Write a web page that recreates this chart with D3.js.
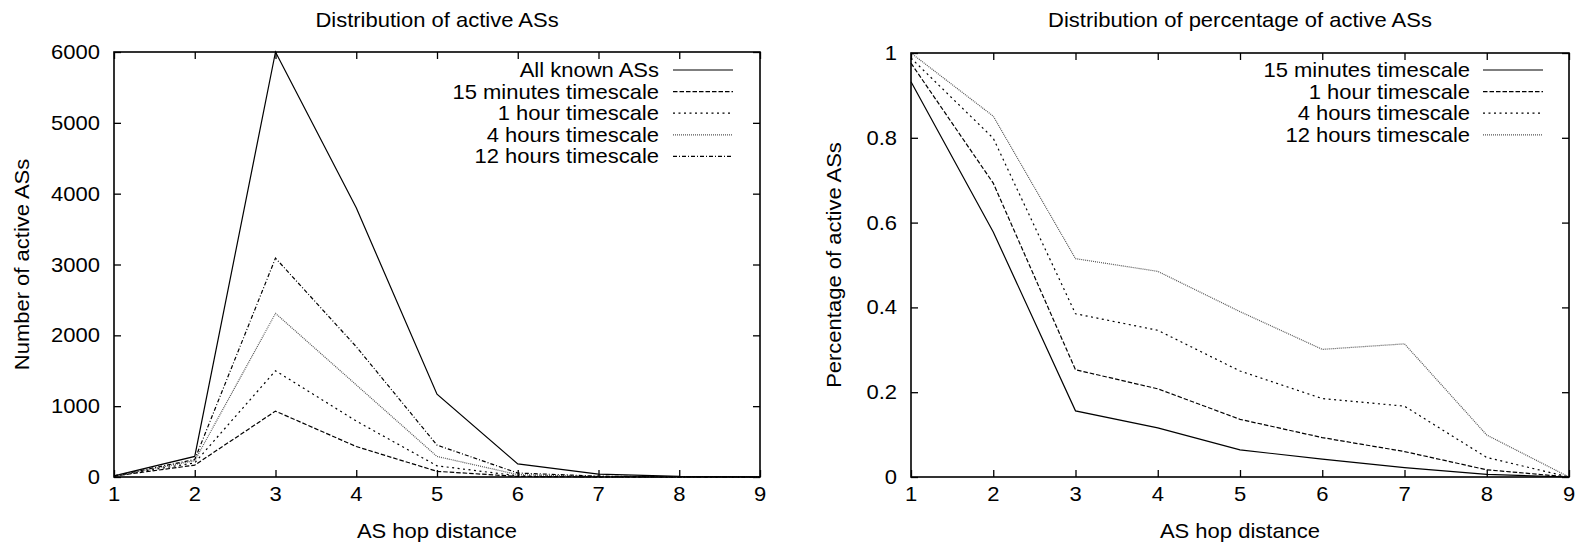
<!DOCTYPE html>
<html><head><meta charset="utf-8">
<script src="https://cdn.jsdelivr.net/npm/d3@7"></script>
<style>
html,body{margin:0;padding:0;background:#fff;}
text{font-family:"Liberation Sans",Arial,Helvetica,sans-serif;fill:#000;}
</style></head>
<body>
<svg id="chart" width="1579" height="544"></svg>
<script>
const hops = [1,2,3,4,5,6,7,8,9];
const xTicks = [1,2,3,4,5,6,7,8,9];
const leftYTicks = [0,1000,2000,3000,4000,5000,6000];
const rightYTicks = [0,0.2,0.4,0.6,0.8,1];

const allKnown = [15, 290, 6000, 3800, 1170, 185, 40, 8, 2];
const min15    = [12, 168, 930, 430, 80, 8, 1, 0, 0];
const hour1    = [14, 200, 1500, 790, 158, 17, 2.4, 0, 0];
const hour4    = [15, 230, 2310, 1300, 290, 34, 6.6, 0.4, 0];
const hour12   = [15, 247, 3090, 1840, 450, 56, 12, 0.8, 0];

const pct15  = [0.932, 0.578, 0.156, 0.116, 0.064, 0.042, 0.022, 0.006, 0];
const pct1h  = [0.976, 0.693, 0.253, 0.208, 0.136, 0.093, 0.060, 0.017, 0];
const pct4h  = [0.988, 0.799, 0.385, 0.346, 0.250, 0.185, 0.167, 0.046, 0];
const pct12h = [1.000, 0.851, 0.515, 0.485, 0.390, 0.301, 0.314, 0.099, 0];

const leftSeries = [
  {name:"All known ASs", values: allKnown, dash:null},
  {name:"15 minutes timescale", values: min15, dash:"4.5,2"},
  {name:"1 hour timescale", values: hour1, dash:"2,3.5"},
  {name:"4 hours timescale", values: hour4, dash:"1,1", color:"#555"},
  {name:"12 hours timescale", values: hour12, dash:"4,2,1,2"}
];
const rightSeries = [
  {name:"15 minutes timescale", values: pct15, dash:null},
  {name:"1 hour timescale", values: pct1h, dash:"4.5,2"},
  {name:"4 hours timescale", values: pct4h, dash:"2,3.5"},
  {name:"12 hours timescale", values: pct12h, dash:"1,1", color:"#555"}
];

const svg = d3.select("#chart");
const FS = 20, SX = 1.1;

function txt(g, x, y, s, anchor, rot){
  const t = g.append("text")
    .attr("transform", `translate(${x},${y})` + (rot ? ` rotate(${rot})` : "") + ` scale(${SX},1)`)
    .attr("text-anchor", anchor || "start")
    .attr("font-size", FS)
    .text(s);
  return t;
}

function panel(opts){
  const {x0,x1,y0,y1,yDomain,yTicks,yFmt,series,title,yLabel,yLabelX,legendTextX,legendLine} = opts;
  const g = svg.append("g");
  const x = d3.scaleLinear().domain([1,9]).range([x0,x1]);
  const y = d3.scaleLinear().domain(yDomain).range([y1,y0]);
  const TL = 7;

  // ticks (inward, mirrored)
  const axB = d3.axisBottom(x).tickValues(xTicks).tickSize(-TL).tickFormat("");
  const axT = d3.axisTop(x).tickValues(xTicks).tickSize(-TL).tickFormat("");
  const axL = d3.axisLeft(y).tickValues(yTicks).tickSize(-TL).tickFormat("");
  const axR = d3.axisRight(y).tickValues(yTicks).tickSize(-TL).tickFormat("");
  [[axB,`translate(0,${y1})`],[axT,`translate(0,${y0})`],[axL,`translate(${x0},0)`],[axR,`translate(${x1},0)`]].forEach(([a,tr])=>{
    const ag = g.append("g").attr("transform",tr).call(a);
    ag.select(".domain").remove();
    ag.selectAll(".tick line").attr("stroke","#000").attr("stroke-width",1.3);
  });

  // tick labels
  xTicks.forEach(v => txt(g, x(v), y1+24, String(v), "middle"));
  yTicks.forEach(v => txt(g, x0-14, y(v)+7, yFmt(v), "end"));

  // lines
  const line = d3.line().x((d,i)=>x(hops[i])).y(d=>y(d));
  series.forEach(s=>{
    g.append("path").datum(s.values)
      .attr("d", line)
      .attr("fill","none")
      .attr("stroke", s.color || "#000")
      .attr("stroke-width", 1.2)
      .attr("stroke-dasharray", s.dash);
  });

  // border
  g.append("rect").attr("x",x0).attr("y",y0).attr("width",x1-x0).attr("height",y1-y0)
    .attr("fill","none").attr("stroke","#000").attr("stroke-width",1.6);

  // legend
  const rowH = 21.6;
  series.forEach((s,i)=>{
    const cy = 70 + i*rowH;
    txt(g, legendTextX, cy+7, s.name, "end");
    g.append("line").attr("x1",legendLine[0]).attr("x2",legendLine[1])
      .attr("y1",cy).attr("y2",cy)
      .attr("stroke", s.color || "#000").attr("stroke-width",1.2)
      .attr("stroke-dasharray", s.dash);
  });

  // titles
  txt(g, (x0+x1)/2, 27, title, "middle");
  txt(g, (x0+x1)/2, 538, "AS hop distance", "middle");
  txt(g, yLabelX, (y0+y1)/2, yLabel, "middle", -90);
}

panel({x0:114, x1:760, y0:52, y1:477, yDomain:[0,6000], yTicks:leftYTicks,
  yFmt:d=>String(d), series:leftSeries, title:"Distribution of active ASs",
  yLabel:"Number of active ASs", yLabelX:29, legendTextX:659, legendLine:[673,733]});

panel({x0:911, x1:1569, y0:53, y1:477, yDomain:[0,1], yTicks:rightYTicks,
  yFmt:d=>String(d), series:rightSeries, title:"Distribution of percentage of active ASs",
  yLabel:"Percentage of active ASs", yLabelX:841, legendTextX:1470, legendLine:[1483,1543]});
</script>
</body></html>
